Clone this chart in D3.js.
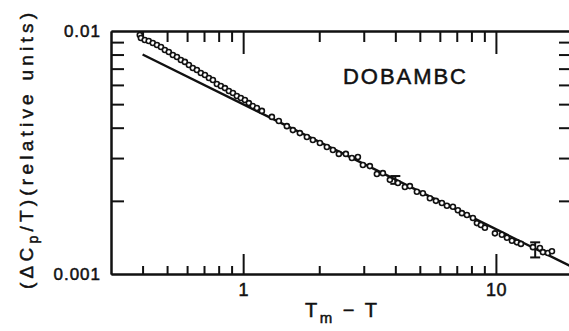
<!DOCTYPE html>
<html>
<head>
<meta charset="utf-8">
<script src="https://cdn.jsdelivr.net/npm/d3@7"></script>
<style>
  body { margin: 0; background: #fff; }
  svg { display: block; }
  text { font-family: "Liberation Sans", Arial, Helvetica, sans-serif; fill: #111; stroke: #111; stroke-width: 0.5px; }
  .axis path, .axis line { stroke: #111; stroke-width: 2; }
</style>
</head>
<body>
<div class="chart"></div>
<script>
// data (T_m - T, dCp/T)
var tempDiff = [0.390, 0.394, 0.408, 0.423, 0.439, 0.456, 0.473, 0.490, 0.508, 0.527,
  0.547, 0.567, 0.588, 0.610, 0.632, 0.656, 0.680, 0.706, 0.732, 0.759,
  0.787, 0.816, 0.847, 0.878, 0.911, 0.944, 0.979, 1.016, 1.053, 1.092,
  1.133, 1.186, 1.299, 1.384, 1.489, 1.573, 1.676, 1.787, 1.887, 2.012,
  2.144, 2.265, 2.391, 2.549, 2.693, 2.844, 2.977, 3.172, 3.381, 3.571,
  3.806, 4.095, 4.364, 4.567, 4.868, 5.141, 5.481, 5.789, 6.113, 6.399,
  6.759, 7.073, 7.336, 7.678, 8.110, 8.411, 8.723, 9.046, 9.910, 10.56,
  11.06, 11.57, 12.11, 12.56, 14.01, 14.93, 15.35, 16.06, 16.66];
var heatCap = [0.00963, 0.00936, 0.00918, 0.00910, 0.00893, 0.00876, 0.00859, 0.00835, 0.00820, 0.00797,
  0.00782, 0.00760, 0.00746, 0.00725, 0.00704, 0.00691, 0.00672, 0.00659, 0.00641, 0.00629,
  0.00605, 0.00594, 0.00582, 0.00566, 0.00556, 0.00540, 0.00530, 0.00520, 0.00505, 0.00491,
  0.00482, 0.00469, 0.00443, 0.00426, 0.00406, 0.00391, 0.00380, 0.00366, 0.00356, 0.00346,
  0.00333, 0.00324, 0.00312, 0.00312, 0.00300, 0.00303, 0.00281, 0.00278, 0.00258, 0.00260,
  0.00244, 0.00237, 0.00228, 0.00230, 0.00218, 0.00215, 0.00205, 0.00200, 0.00196, 0.00191,
  0.00189, 0.00183, 0.00178, 0.00175, 0.00170, 0.00162, 0.00159, 0.00155, 0.00147, 0.00145,
  0.00141, 0.00137, 0.00135, 0.00133, 0.00129, 0.00128, 0.00123, 0.00122, 0.00124];

// straight fit line end points
var fitX = [0.4, 20];
var fitY = [0.0080, 0.00107];

// error bars
var errX = [4.0, 14.3];
var errLo = [0.00235, 0.00117];
var errHi = [0.00253, 0.00135];

// ticks
var xMajor = [1, 10];
var xMinor = [0.4, 0.5, 0.6, 0.7, 0.8, 0.9, 2, 3, 4, 5, 6, 7, 8, 9];
var yLabels = [0.001, 0.01];
var yMinor = [0.002, 0.003, 0.004, 0.005, 0.006, 0.007, 0.008, 0.009];

var W = 569, H = 331;
var margin = {top: 31, right: -3, bottom: 57, left: 111},
    width = W - margin.left - margin.right,
    height = H - margin.top - margin.bottom;

var svg = d3.select(".chart").append("svg")
  .attr("width", W)
  .attr("height", H);

var g = svg.append("g")
  .attr("transform", `translate(${margin.left}, ${margin.top})`);

var x = d3.scaleLog().domain([0.3, 20]).range([0, width]);
var y = d3.scaleLog().domain([0.001, 0.01]).range([height, 0]);

function styleAxis(sel) {
  sel.attr("class", "axis");
  sel.selectAll("text").remove();
}

// bottom
g.append("g").attr("transform", `translate(0, ${height})`)
  .call(d3.axisBottom(x).tickValues(xMinor).tickSize(-8).tickSizeOuter(0).tickFormat(""))
  .call(styleAxis);
g.append("g").attr("transform", `translate(0, ${height})`)
  .attr("class", "axis")
  .call(d3.axisBottom(x).tickValues(xMajor).tickSize(-20).tickSizeOuter(0).tickPadding(9)
    .tickFormat(d3.format("d")))
  .call(s => s.selectAll("text").style("font-size", "18px").attr("letter-spacing", 0.5));

// top
g.append("g")
  .call(d3.axisTop(x).tickValues(xMinor).tickSize(-11).tickSizeOuter(0).tickFormat(""))
  .call(styleAxis);
g.append("g")
  .call(d3.axisTop(x).tickValues(xMajor).tickSize(-23).tickSizeOuter(0).tickFormat(""))
  .call(styleAxis);

// left
g.append("g")
  .call(d3.axisLeft(y).tickValues(yMinor).tickSize(-13).tickSizeOuter(0).tickFormat(""))
  .call(styleAxis);
g.append("g")
  .attr("class", "axis")
  .call(d3.axisLeft(y).tickValues(yLabels).tickSize(0).tickSizeOuter(0).tickPadding(10)
    .tickFormat(d3.format("")))
  .call(s => s.selectAll("text").style("font-size", "17px").attr("letter-spacing", 1));

// right
g.append("g").attr("transform", `translate(${width}, 0)`)
  .call(d3.axisRight(y).tickValues(yMinor).tickSize(-13).tickSizeOuter(0).tickFormat(""))
  .call(styleAxis);

g.selectAll(".axis .domain").attr("stroke-width", 2.4);

// fit line
g.append("path")
  .datum(d3.zip(fitX, fitY))
  .attr("fill", "none")
  .attr("stroke", "#111")
  .attr("stroke-width", 2.4)
  .attr("d", d3.line().x(d => x(d[0])).y(d => y(d[1])));

// error bars
var eb = g.append("g").selectAll("g")
  .data(d3.range(errX.length))
  .enter().append("g")
  .attr("stroke", "#111")
  .attr("stroke-width", 2);
eb.append("line")
  .attr("x1", i => x(errX[i])).attr("x2", i => x(errX[i]))
  .attr("y1", i => y(errLo[i])).attr("y2", i => y(errHi[i]));
eb.append("line")
  .attr("x1", i => x(errX[i]) - 5).attr("x2", i => x(errX[i]) + 5)
  .attr("y1", i => y(errLo[i])).attr("y2", i => y(errLo[i]));
eb.append("line")
  .attr("x1", i => x(errX[i]) - 5).attr("x2", i => x(errX[i]) + 5)
  .attr("y1", i => y(errHi[i])).attr("y2", i => y(errHi[i]));

// data points
g.append("g").selectAll("circle")
  .data(d3.zip(tempDiff, heatCap))
  .enter().append("circle")
  .attr("cx", d => x(d[0]))
  .attr("cy", d => y(d[1]))
  .attr("r", 2.5)
  .attr("fill", "#fff")
  .attr("stroke", "#111")
  .attr("stroke-width", 1.6);

// sample name
svg.append("text")
  .attr("x", 343).attr("y", 84)
  .attr("textLength", 123)
  .style("font-size", "22px")
  .text("DOBAMBC");

// x title
var xt = svg.append("text")
  .attr("x", 305).attr("y", 317)
  .attr("textLength", 72)
  .attr("lengthAdjust", "spacing")
  .style("font-size", "20px");
xt.append("tspan").text("T");
xt.append("tspan").attr("dy", 6).style("font-size", "15px").text("m");
xt.append("tspan").attr("dy", -6).text(" \u2212 T");

// y title
var yt = svg.append("text")
  .attr("transform", "translate(33, 151) rotate(-90)")
  .attr("text-anchor", "middle")
  .attr("textLength", 276)
  .attr("lengthAdjust", "spacing")
  .style("font-size", "19px");
yt.append("tspan").text("(\u0394C");
yt.append("tspan").attr("dy", 5).style("font-size", "14px").text("p");
yt.append("tspan").attr("dy", -5).text("/T)(relative units)");
</script>
</body>
</html>
